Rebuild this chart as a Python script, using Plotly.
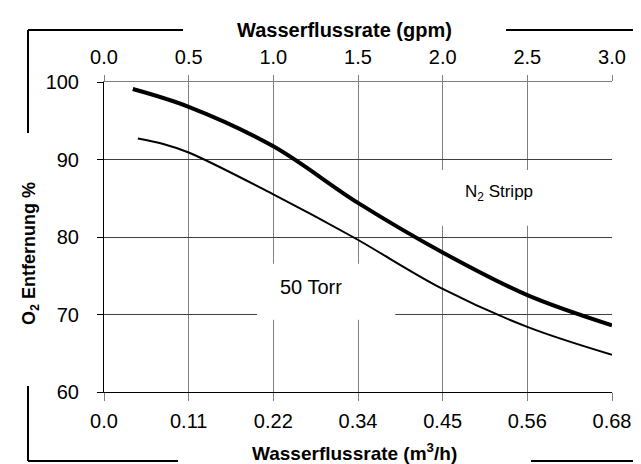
import plotly.graph_objects as go

# ---- data ----
gpm_n2 = [0.17, 0.5, 1.0, 1.5, 2.0, 2.5, 3.0]
o2_n2 = [99.1, 96.8, 91.7, 84.4, 78.0, 72.5, 68.6]

gpm_torr = [0.2, 0.35, 0.5, 1.0, 1.47, 2.0, 2.5, 3.0]
o2_torr = [92.7, 92.0, 90.9, 85.5, 80.0, 73.3, 68.4, 64.8]

top_tickvals = [0, 0.5, 1.0, 1.5, 2.0, 2.5, 3.0]
top_ticktext = ["0.0", "0.5", "1.0", "1.5", "2.0", "2.5", "3.0"]
bottom_ticktext = ["0.0", "0.11", "0.22", "0.34", "0.45", "0.56", "0.68"]
y_tickvals = [60, 70, 80, 90, 100]

FONT = "Liberation Sans, Arial, sans-serif"
W, H = 641, 464
ML, MR, MT, MB = 96, 37, 74, 80
PW, PH = W - ML - MR, H - MT - MB


def px(x):
    return (x - ML) / PW


def py(y):
    return (H - MB - y) / PH


fig = go.Figure()
fig.add_trace(go.Scatter(x=gpm_n2, y=o2_n2, mode="lines", line=dict(color="black", width=4, shape="spline"),
                         showlegend=False, hoverinfo="skip"))
fig.add_trace(go.Scatter(x=gpm_torr, y=o2_torr, mode="lines", xaxis="x2",
                         line=dict(color="black", width=2, shape="spline"),
                         showlegend=False, hoverinfo="skip"))

shapes = []
# white label boxes hiding gridlines
shapes.append(dict(type="rect", xref="x", yref="y", x0=0.904, x1=1.72, y0=69.33, y1=76.55,
                   fillcolor="white", line=dict(width=0), layer="between"))
shapes.append(dict(type="rect", xref="x", yref="y", x0=1.94, x1=2.65, y0=81.44, y1=88.66,
                   fillcolor="white", line=dict(width=0), layer="between"))
# outer frame bracket lines
frame = dict(color="black", width=2)
for (x0, y0, x1, y1) in [(20, 22, 175, 22), (20, 22, 20, 125), (498, 22, 641, 22),
                         (20, 378, 20, 453), (20, 453, 170, 453), (523, 453, 641, 453)]:
    shapes.append(dict(type="line", xref="paper", yref="paper", x0=px(x0), y0=py(y0), x1=px(x1), y1=py(y1),
                       line=frame, layer="above"))

annotations = [
    dict(text="50 Torr", x=1.22, y=73.6, xref="x", yref="y", showarrow=False,
         font=dict(family=FONT, size=20, color="black")),
    dict(text="N<sub>2</sub> Stripp", x=2.33, y=85.7, xref="x", yref="y", showarrow=False,
         font=dict(family=FONT, size=17, color="black")),
    dict(text="<b>Wasserflussrate (gpm)</b>", x=px(336), y=py(22), xref="paper", yref="paper",
         showarrow=False, xanchor="center", yanchor="middle",
         font=dict(family=FONT, size=20, color="black")),
    dict(text="<b>Wasserflussrate (m<sup>3</sup>/h)</b>", x=px(346), y=py(444), xref="paper", yref="paper",
         showarrow=False, xanchor="center", yanchor="middle",
         font=dict(family=FONT, size=19, color="black")),
    dict(text="<b>O<sub>2</sub> Entfernung %</b>", x=px(22), y=py(246), xref="paper", yref="paper",
         showarrow=False, xanchor="center", yanchor="middle", textangle=-90,
         font=dict(family=FONT, size=18, color="black")),
]

fig.update_layout(
    width=W, height=H,
    margin=dict(l=ML, r=MR, t=MT, b=MB),
    paper_bgcolor="white", plot_bgcolor="white",
    font=dict(family=FONT, size=20, color="black"),
    shapes=shapes, annotations=annotations,
    xaxis=dict(range=[0, 3], tickvals=top_tickvals, ticktext=bottom_ticktext,
               showgrid=True, gridcolor="#7f7f7f", gridwidth=1,
               ticks="outside", ticklen=8, tickcolor="#7f7f7f", tickwidth=1,
               showline=True, linecolor="black", linewidth=1, zeroline=False,
               ticklabelstandoff=3, tickfont=dict(size=20)),
    xaxis2=dict(range=[0, 3], overlaying="x", side="top", tickvals=top_tickvals, ticktext=top_ticktext,
                showgrid=False, ticks="outside", ticklen=6, tickcolor="#7f7f7f", tickwidth=1,
                showline=True, linecolor="#7f7f7f", linewidth=1, zeroline=False,
                ticklabelstandoff=3, tickfont=dict(size=20)),
    yaxis=dict(range=[60, 100], tickvals=y_tickvals, showgrid=True, gridcolor="#404040", gridwidth=1,
               ticks="outside", ticklen=6, tickcolor="black", tickwidth=1,
               showline=True, linecolor="black", linewidth=1, zeroline=False,
               ticklabelstandoff=14, tickfont=dict(size=20)),
)

fig.write_html("out.html")
